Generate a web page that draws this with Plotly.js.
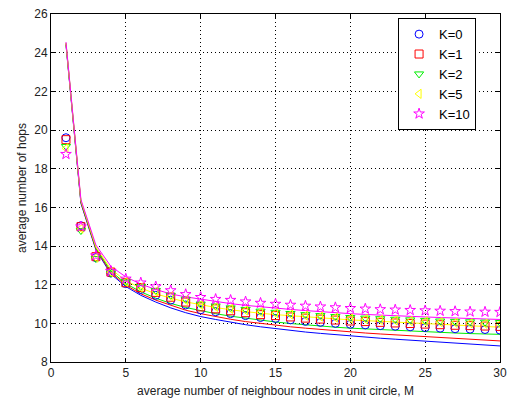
<!DOCTYPE html>
<html>
<head>
<meta charset="utf-8">
<script src="https://cdn.plot.ly/plotly-3.0.1.min.js"></script>
<style>html,body{margin:0;padding:0;background:#fff;}#chart{width:509px;height:403px;}</style>
</head>
<body>
<div id="chart"></div>
<script>
const M = [1,2,3,4,5,6,7,8,9,10,11,12,13,14,15,16,17,18,19,20,21,22,23,24,25,26,27,28,29,30];

// simulated (markers)
const simK0  = [19.6,15.05,13.4,12.6,12.05,11.75,11.45,11.2,10.95,10.7,10.6,10.5,10.4,10.3,10.25,10.18,10.1,10.05,10.0,9.95,9.92,9.88,9.85,9.82,9.78,9.75,9.72,9.7,9.68,9.65];
const simK1  = [19.5,15.0,13.45,12.65,12.1,11.85,11.6,11.35,11.1,10.85,10.75,10.65,10.55,10.45,10.4,10.33,10.27,10.22,10.17,10.12,10.09,10.05,10.02,9.99,9.96,9.93,9.9,9.88,9.86,9.84];
const simK2  = [19.15,14.8,13.35,12.6,12.15,11.9,11.7,11.45,11.25,11.0,10.9,10.8,10.72,10.63,10.57,10.51,10.45,10.4,10.35,10.3,10.27,10.24,10.21,10.18,10.15,10.12,10.1,10.08,10.06,10.04];
const simK5  = [19.05,14.9,13.4,12.65,12.15,11.85,11.65,11.4,11.2,10.95,10.85,10.75,10.67,10.58,10.52,10.46,10.4,10.35,10.3,10.25,10.22,10.18,10.15,10.12,10.09,10.06,10.03,10.0,9.98,9.96];
const simK10 = [18.75,15.0,13.5,12.7,12.3,12.1,11.9,11.7,11.5,11.35,11.25,11.2,11.12,11.05,11.0,10.95,10.9,10.86,10.82,10.78,10.75,10.72,10.7,10.68,10.66,10.64,10.62,10.6,10.59,10.58];

// analytical (lines)
const anaK0  = [24.4,16.2,13.8,12.55,11.9,11.45,11.1,10.8,10.55,10.35,10.2,10.05,9.93,9.82,9.72,9.63,9.55,9.48,9.41,9.35,9.29,9.23,9.18,9.13,9.08,9.03,8.98,8.93,8.88,8.83];
const anaK1  = [24.45,16.25,13.85,12.62,11.97,11.53,11.2,10.92,10.68,10.5,10.35,10.21,10.09,9.99,9.9,9.82,9.75,9.68,9.61,9.55,9.5,9.45,9.4,9.35,9.3,9.26,9.22,9.17,9.13,9.09];
const anaK2  = [24.5,16.3,13.9,12.7,12.05,11.63,11.3,11.03,10.82,10.65,10.5,10.37,10.26,10.16,10.07,9.99,9.92,9.86,9.8,9.75,9.71,9.67,9.63,9.59,9.56,9.53,9.5,9.47,9.45,9.43];
const anaK5  = [24.5,16.35,13.95,12.8,12.2,11.82,11.53,11.3,11.11,10.95,10.82,10.7,10.6,10.52,10.45,10.39,10.33,10.28,10.23,10.18,10.14,10.1,10.06,10.02,9.98,9.94,9.9,9.86,9.83,9.8];
const anaK10 = [24.55,16.4,14.05,12.95,12.4,12.03,11.75,11.52,11.37,11.25,11.13,11.02,10.93,10.85,10.78,10.72,10.66,10.6,10.55,10.5,10.46,10.42,10.39,10.36,10.33,10.3,10.27,10.24,10.22,10.2];

const names = ['K=0','K=1','K=2','K=5','K=10'];
const colors = ['#0000ff','#ff0000','#00ee00','#ffff00','#ff00ff'];
const symbols = ['circle-open','square-open','triangle-down-open','triangle-left-open','star-open'];
const sims = [simK0, simK1, simK2, simK5, simK10];
const anas = [anaK0, anaK1, anaK2, anaK5, anaK10];

const traces = [];
for (let i = 0; i < 5; i++) {
  traces.push({x: M, y: anas[i], mode: 'lines', line: {color: colors[i], width: 1}, showlegend: false, hoverinfo: 'skip'});
}
for (let i = 0; i < 5; i++) {
  traces.push({x: M, y: sims[i], mode: 'markers', name: names[i],
    marker: {symbol: symbols[i], size: 8, color: colors[i], line: {width: 1, color: colors[i]}}});
}

const axisFont = {family: 'Liberation Sans, Arial, sans-serif', size: 12, color: '#222'};
const layout = {
  width: 509, height: 403,
  margin: {l: 51, r: 9, t: 14, b: 41},
  paper_bgcolor: '#fff', plot_bgcolor: '#fff',
  font: axisFont,
  showlegend: true,
  xaxis: {range: [0, 30], tickvals: [0,5,10,15,20,25,30], ticks: 'inside', ticklen: 4, tickcolor: '#000',
    showgrid: true, gridcolor: '#000', griddash: '1px,3px', gridwidth: 1,
    showline: true, linecolor: '#000', linewidth: 1, mirror: 'ticks', zeroline: false,
    title: {text: 'average number of neighbour nodes in unit circle, M', font: axisFont, standoff: 7}, tickfont: axisFont},
  yaxis: {range: [8, 26], tickvals: [8,10,12,14,16,18,20,22,24,26], ticks: 'inside', ticklen: 4, tickcolor: '#000',
    showgrid: true, gridcolor: '#000', griddash: '1px,3px', gridwidth: 1,
    showline: true, linecolor: '#000', linewidth: 1, mirror: 'ticks', zeroline: false,
    title: {text: 'average number of hops', font: axisFont, standoff: 5}, tickfont: axisFont},
  legend: {x: 0.773, y: 0.988, xanchor: 'left', yanchor: 'top', bgcolor: '#fff', bordercolor: '#000', borderwidth: 1,
    font: {family: 'Liberation Sans, Arial, sans-serif', size: 13, color: '#000'}, tracegroupgap: 0, itemwidth: 30}
};
Plotly.newPlot('chart', traces, layout, {staticPlot: true});
</script>
</body>
</html>
